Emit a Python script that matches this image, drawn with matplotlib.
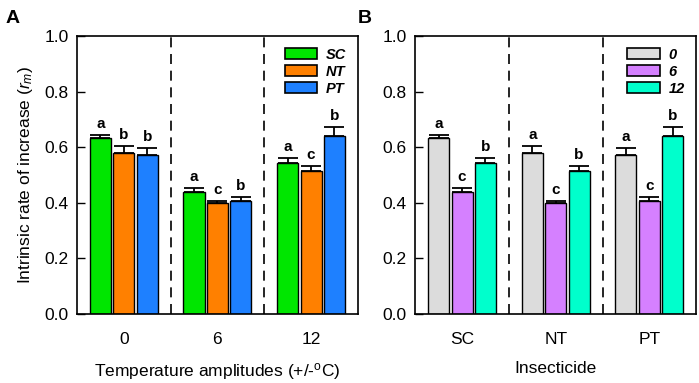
import matplotlib
matplotlib.use("Agg")
import matplotlib.pyplot as plt
from matplotlib.patches import Patch
import numpy as np

plt.rcParams["font.family"] = ["Liberation Sans", "DejaVu Sans"]
plt.rcParams["mathtext.fontset"] = "custom"
plt.rcParams["mathtext.rm"] = "Liberation Sans"
plt.rcParams["mathtext.it"] = "Liberation Sans:italic"

# ---- data -----------------------------------------------------------------
temps = ["0", "6", "12"]
insecticides = ["SC", "NT", "PT"]

# mean r_m per insecticide, across temperature amplitudes 0, 6, 12
sc_mean = [0.633, 0.440, 0.544]
nt_mean = [0.578, 0.400, 0.513]
pt_mean = [0.573, 0.408, 0.641]
sc_se = [0.010, 0.013, 0.018]
nt_se = [0.027, 0.008, 0.020]
pt_se = [0.025, 0.014, 0.032]

# significance letters, panel A (rows = insecticide, cols = temperature)
sc_let_a = ["a", "a", "a"]
nt_let_a = ["b", "c", "c"]
pt_let_a = ["b", "b", "b"]
# panel B (rows = temperature, cols = insecticide)
t0_let_b = ["a", "a", "a"]
t6_let_b = ["c", "c", "c"]
t12_let_b = ["b", "b", "b"]

colors_a = ["#00E600", "#FF8000", "#1E80FF"]
colors_b = ["#DCDCDC", "#D580FF", "#00FFCC"]

means = np.array([sc_mean, nt_mean, pt_mean])
ses = np.array([sc_se, nt_se, pt_se])

fig = plt.figure(figsize=(6.99, 3.83), dpi=100)
axA = fig.add_axes([0.110, 0.180, 0.402, 0.726])
axB = fig.add_axes([0.594, 0.180, 0.402, 0.726])

offsets = [-0.25, 0.0, 0.25]
width = 0.225


def draw(ax, vals, errs, lets, colors, labels, xticks, xlabel):
    x = np.arange(3)
    for i in range(3):
        xs = x + offsets[i]
        ax.bar(xs, vals[i], width, color=colors[i], edgecolor="black",
               linewidth=1.0, zorder=2)
        ax.errorbar(xs, vals[i], yerr=[np.zeros(3), errs[i]], fmt="none",
                    ecolor="black", elinewidth=1.3, capsize=7,
                    capthick=1.3, zorder=3)
        for xx, v, e, l in zip(xs, vals[i], errs[i], lets[i]):
            ax.text(xx, v + e + 0.014, l, ha="center", va="bottom",
                    fontsize=11, fontweight="bold")
    for xv in [0.5, 1.5]:
        ax.axvline(xv, color="black", ls=(0, (6, 4)), lw=1.2, zorder=1)
    ax.set_xlim(-0.5, 2.5)
    ax.set_ylim(0, 1.0)
    ax.set_yticks(np.arange(0, 1.01, 0.2))
    ax.set_yticklabels([f"{v:.1f}" for v in np.arange(0, 1.01, 0.2)])
    ax.set_xticks(x)
    ax.set_xticklabels(xticks)
    ax.tick_params(axis="y", direction="in", length=6, width=1.0,
                   labelsize=12.5, pad=6)
    ax.tick_params(axis="x", length=0, labelsize=12.5, pad=13)
    for s in ax.spines.values():
        s.set_linewidth(1.2)
    ax.set_xlabel(xlabel, fontsize=12.5, labelpad=10)
    handles = [Patch(facecolor=c, edgecolor="black", linewidth=1.2)
               for c in colors]
    ax.legend(handles, labels, loc="upper right", frameon=False,
              prop={"weight": "bold", "style": "italic", "size": 10.5},
              handlelength=2.2, handleheight=0.8, labelspacing=0.2,
              handletextpad=0.6, borderaxespad=0.4)


draw(axA, means, ses, [sc_let_a, nt_let_a, pt_let_a], colors_a,
     insecticides, temps, "Temperature amplitudes (+/-$^{\\rm o}$C)")
draw(axB, means.T, ses.T, [t0_let_b, t6_let_b, t12_let_b], colors_b,
     temps, insecticides, "Insecticide")

axA.set_ylabel("Intrinsic rate of increase ($r_m$)", fontsize=12.5,
               labelpad=7)

fig.text(0.008, 0.975, "A", fontsize=14, fontweight="bold", va="top")
fig.text(0.512, 0.975, "B", fontsize=14, fontweight="bold", va="top")

fig.savefig("out.png", dpi=100)
